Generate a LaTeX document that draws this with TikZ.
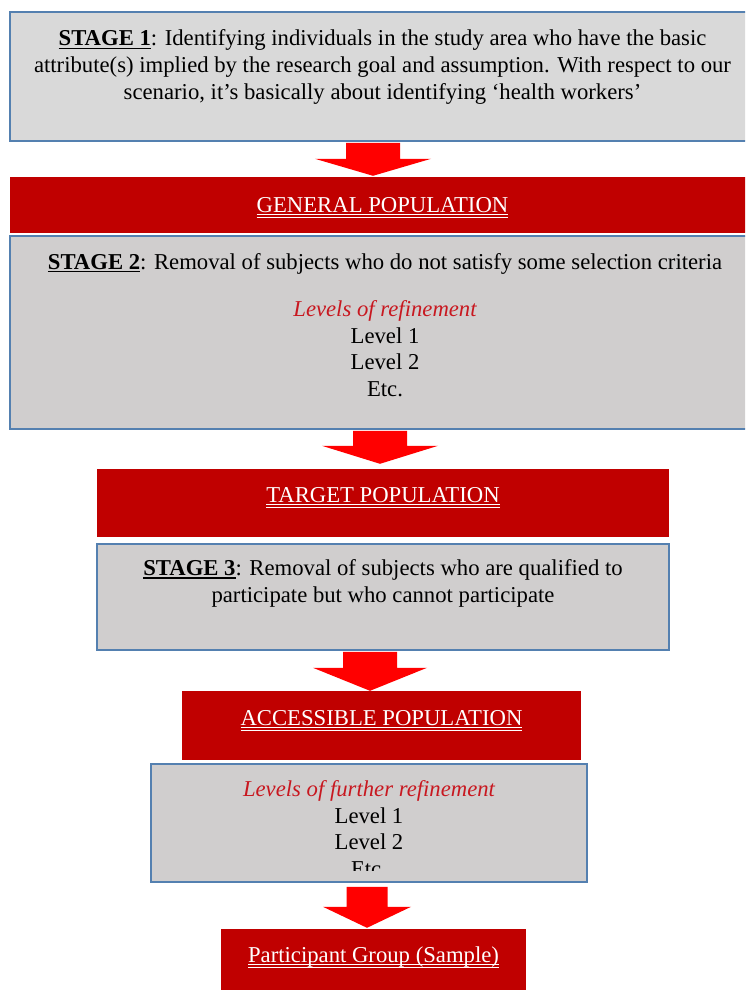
\documentclass[tikz,border=0pt]{standalone}
\usepackage{fontspec}
\setmainfont{Liberation Serif}
\usetikzlibrary{calc, positioning}

\definecolor{paleGrey}{RGB}{217,217,217}
\definecolor{boxGrey}{RGB}{208,206,206}
\definecolor{boxBlue}{RGB}{84,128,176}
\definecolor{bannerRed}{RGB}{192,0,0}
\definecolor{arrowRed}{RGB}{255,0,0}
\definecolor{levelRed}{RGB}{200,24,32}

\newsavebox{\ulbox}
\newcommand{\stagename}[1]{\sbox{\ulbox}{\textbf{#1}}\rlap{\rule[-3pt]{\wd\ulbox}{1.2pt}}\usebox{\ulbox}}
\newcommand{\twoline}[1]{\sbox{\ulbox}{#1}\rlap{\rule[-3pt]{\wd\ulbox}{0.9pt}}\rlap{\rule[-5.5pt]{\wd\ulbox}{0.7pt}}\usebox{\ulbox}}

\begin{document}
\begin{tikzpicture}[
		x=1pt, y=-1pt,
		stagebox/.style={rectangle, draw=boxBlue, line width=1.6pt, fill=boxGrey, inner sep=0},
		banner/.style={rectangle, fill=bannerRed, inner sep=0},
		blockarrow/.style={fill=arrowRed},
		body/.style={align=center, inner sep=0, anchor=base, font=\fontsize{22.7}{26.5}\selectfont},
		bannertext/.style={inner sep=0, anchor=base, text=white, font=\fontsize{22.7}{26.5}\selectfont}]
		\useasboundingbox (0,0) rectangle (745,990);
		\clip (0,0) rectangle (745,990);
		% boxes and banners
		\node[stagebox, fill=paleGrey, minimum width=745, minimum height=129] (s1) at (382.5,76.5) {};
		\node[banner, minimum width=745, minimum height=56] (gen) at (382.5,205) {};
		\node[stagebox, minimum width=750, minimum height=193] (s2) at (385,332.5) {};
		\node[banner, minimum width=572, minimum height=68] (target) at (383,503) {};
		\node[stagebox, minimum width=572, minimum height=106] (s3) at (383,597) {};
		\node[banner, minimum width=399, minimum height=69] (access) at (381.5,725.5) {};
		\node[stagebox, minimum width=436, minimum height=118] (lvl) at (369,823) {};
		\node[banner, minimum width=305, minimum height=71] (part) at (373.5,964.5) {};
		% texts (base = last line)
		\node[body] (s1text) at (382.5,99) {\stagename{STAGE 1}: Identifying individuals in the study area who have the basic\\
			attribute(s) implied by the research goal and assumption. With respect to our\\
			scenario, it’s basically about identifying ‘health workers’};
		\node[bannertext] (gentext) at (382.5,212) {\twoline{GENERAL POPULATION}};
		\node[body] (s2text) at (385,396) {\stagename{STAGE 2}: Removal of subjects who do not satisfy some selection criteria\\[21pt]
			{\color{levelRed}\itshape Levels of refinement}\\ Level 1\\ Level 2\\ Etc.};
		\node[bannertext] (targettext) at (383,502) {\twoline{TARGET POPULATION}};
		\node[body] (s3text) at (383,602) {\stagename{STAGE 3}: Removal of subjects who are qualified to\\
			participate but who cannot participate};
		\node[bannertext] (accesstext) at (381.5,725) {\twoline{ACCESSIBLE POPULATION}};
		\begin{scope}
			\clip (lvl.north west) rectangle ($(lvl.south east)+(0,-12)$);
			\node[body] (lvltext) at (369,876) {{\color{levelRed}\itshape Levels of further refinement}\\
				Level 1\\ Level 2\\ Etc.};
		\end{scope}
		\node[bannertext] (parttext) at (373.5,962) {\twoline{Participant Group (Sample)}};
		% block arrows
		\coordinate (a1) at (373,0);
		\coordinate (a2) at (380,0);
		\coordinate (a3) at (370,0);
		\coordinate (a4) at (367,0);
		\fill[blockarrow] ($(s1.south -| a1)+(-27,1)$) -- ($(s1.south -| a1)+(27,1)$)
			-- ($(gen.north -| a1)+(27,-18)$) -- ($(gen.north -| a1)+(58,-18)$)
			-- ($(gen.north -| a1)+(0,-1)$)
			-- ($(gen.north -| a1)+(-58,-18)$) -- ($(gen.north -| a1)+(-27,-18)$) -- cycle;
		\fill[blockarrow] ($(s2.south -| a2)+(-27,1)$) -- ($(s2.south -| a2)+(27,1)$)
			-- ($(target.north -| a2)+(27,-23)$) -- ($(target.north -| a2)+(58,-23)$)
			-- ($(target.north -| a2)+(0,-5)$)
			-- ($(target.north -| a2)+(-58,-23)$) -- ($(target.north -| a2)+(-27,-23)$) -- cycle;
		\fill[blockarrow] ($(s3.south -| a3)+(-27,1)$) -- ($(s3.south -| a3)+(27,1)$)
			-- ($(access.north -| a3)+(27,-23)$) -- ($(access.north -| a3)+(57,-23)$)
			-- (access.north -| a3)
			-- ($(access.north -| a3)+(-57,-23)$) -- ($(access.north -| a3)+(-27,-23)$) -- cycle;
		\fill[blockarrow] ($(lvl.south -| a4)+(-20.5,4)$) -- ($(lvl.south -| a4)+(20.5,4)$)
			-- ($(part.north -| a4)+(20.5,-22)$) -- ($(part.north -| a4)+(44,-22)$)
			-- ($(part.north -| a4)+(0,-1)$)
			-- ($(part.north -| a4)+(-44,-22)$) -- ($(part.north -| a4)+(-20.5,-22)$) -- cycle;
\end{tikzpicture}
\end{document}
